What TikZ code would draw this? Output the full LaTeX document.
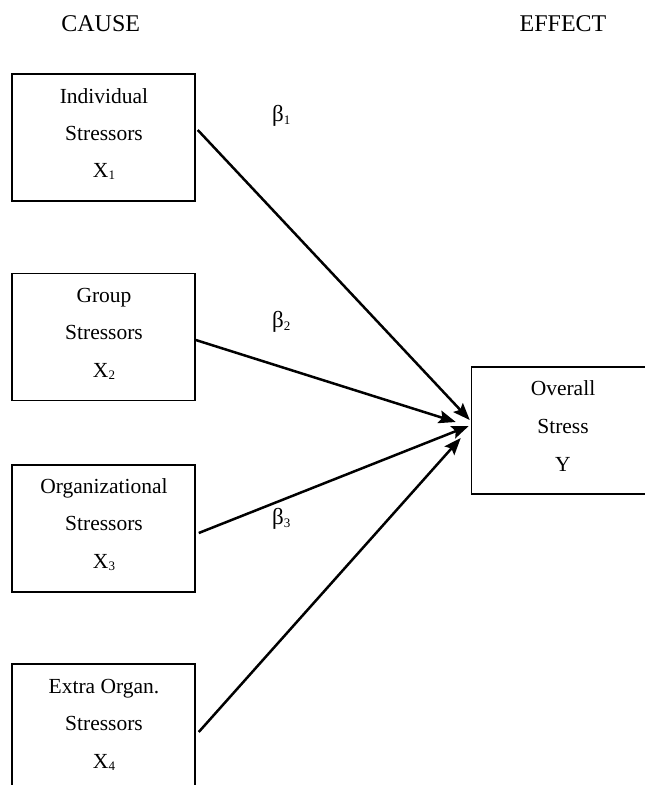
\documentclass[tikz,border=0pt]{standalone}
\usepackage{fontspec}
\setmainfont{Liberation Serif}
\usetikzlibrary{arrows.meta}
\newcommand{\sbs}[1]{\raisebox{-0.3ex}{\fontsize{13}{13}\selectfont #1}}
\begin{document}
\begin{tikzpicture}[x=1pt,y=-1pt,
  boxnode/.style={draw=black, line width=1.5pt, minimum width=183pt, minimum height=127pt, inner sep=0pt},
  txt/.style={font=\fontsize{21.5}{25}\selectfont, anchor=base, inner sep=0pt},
  beta/.style={font=\fontsize{23}{27}\selectfont, anchor=base west, inner sep=0pt},
  head/.style={font=\fontsize{24}{28}\selectfont, anchor=base, inner sep=0pt},
  link/.style={line width=2.5pt, -{Stealth[length=17pt,width=13pt,inset=3pt]}}]
\useasboundingbox (0,0) rectangle (645,785);
\clip (0,0) rectangle (645,785);

% headers
\node[head] (cause) at (100.7,31) {CAUSE};
\node[head] (effect) at (563,31) {EFFECT};

% boxes
\node[boxnode] (x1) at (103.5,137.5) {};
\node[boxnode] (x2) at (103.5,337) {};
\node[boxnode] (x3) at (103.5,528.5) {};
\node[boxnode] (x4) at (103.5,727.5) {};
\node[boxnode] (ov) at (563,430.5) {};

% box texts
\node[txt] (x1a) at (104,103) {Individual};
\node[txt] (x1b) at (104,140) {Stressors};
\node[txt] (x1c) at (104,177) {X\sbs{1}};

\node[txt] (x2a) at (104,302) {Group};
\node[txt] (x2b) at (104,339.5) {Stressors};
\node[txt] (x2c) at (104,377) {X\sbs{2}};

\node[txt] (x3a) at (104,493) {Organizational};
\node[txt] (x3b) at (104,530.5) {Stressors};
\node[txt] (x3c) at (104,568) {X\sbs{3}};

\node[txt] (x4a) at (104,693) {Extra Organ.};
\node[txt] (x4b) at (104,730.5) {Stressors};
\node[txt] (x4c) at (104,768) {X\sbs{4}};

\node[txt] (ova) at (563,395) {Overall};
\node[txt] (ovb) at (563,433) {Stress};
\node[txt] (ovc) at (563,471) {Y};

% beta labels
\node[beta] (b1) at (272,121) {β\sbs{1}};
\node[beta] (b2) at (272,327) {β\sbs{2}};
\node[beta] (b3) at (272,524) {β\sbs{3}};

% arrows
\draw[link] ([xshift=2pt,yshift=7.5pt]x1.east) -- ([xshift=-1pt,yshift=10.5pt]ov.west);
\draw[link] ([xshift=0pt,yshift=-3pt]x2.east) -- ([xshift=-15pt,yshift=8.5pt]ov.west);
\draw[link] ([xshift=3pt,yshift=-4.5pt]x3.east) -- ([xshift=-2pt,yshift=4.5pt]ov.west);
\draw[link] ([xshift=3pt,yshift=-4.5pt]x4.east) -- ([xshift=-10pt,yshift=-7.5pt]ov.west);
\end{tikzpicture}
\end{document}
